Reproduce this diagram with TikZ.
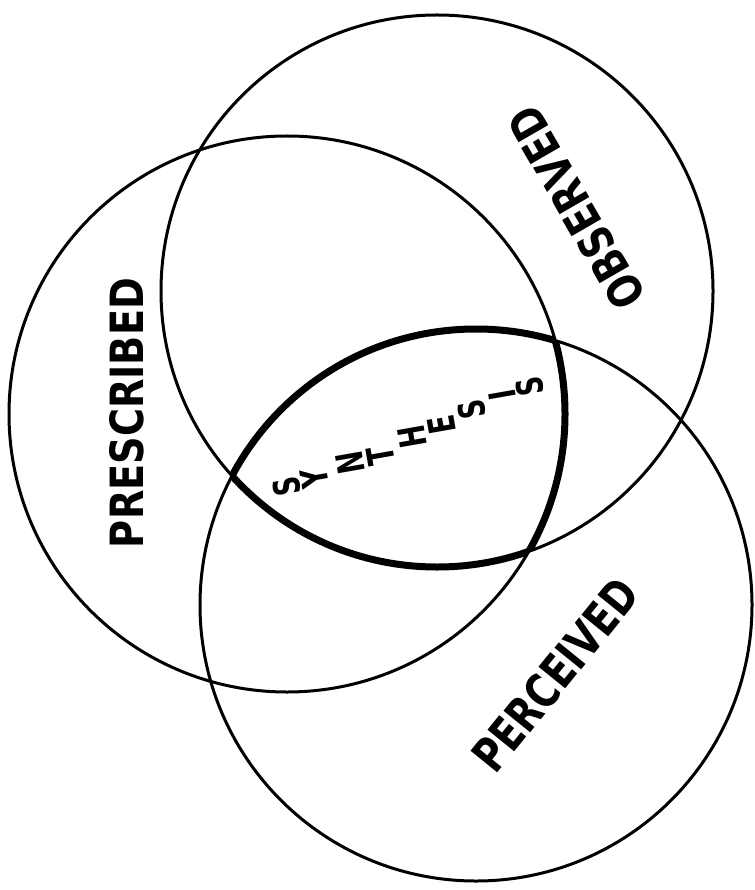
\documentclass[tikz,border=0pt]{standalone}
\usepackage{fontspec}
\setmainfont{DejaVu Sans}
\usepackage{graphicx}
\usepackage{tikz}
\newcommand{\vennlbl}[3]{\resizebox{#1}{#2}{\bfseries #3}}
\newcommand{\synchar}[1]{\scalebox{0.72}[1]{\resizebox{!}{27pt}{\bfseries #1}}}
\tikzset{
  venn/.style={line width=3pt},
  core/.style={line width=7pt},
  vennlabel/.style={inner sep=0pt},
}

\begin{document}
\begin{tikzpicture}[x=1pt,y=-1pt]
  \useasboundingbox (0,0) rectangle (754,890);
  \coordinate (obs) at (437,291);
  \coordinate (pre) at (287,414);
  \coordinate (per) at (476,605);
  \draw[venn] (obs) circle[radius=276pt];
  \draw[venn] (pre) circle[radius=278pt];
  \draw[venn] (per) circle[radius=276pt];
  \begin{scope}
    \clip (pre) circle[radius=278pt];
    \clip (obs) circle[radius=276pt];
    \draw[core] (per) circle[radius=276pt];
  \end{scope}
  \begin{scope}
    \clip (per) circle[radius=276pt];
    \clip (obs) circle[radius=276pt];
    \draw[core] (pre) circle[radius=278pt];
  \end{scope}
  \begin{scope}
    \clip (per) circle[radius=276pt];
    \clip (pre) circle[radius=278pt];
    \draw[core] (obs) circle[radius=276pt];
  \end{scope}
  \node[vennlabel, rotate=90] (prescribed) at (127,413) {\vennlbl{270pt}{34pt}{PRESCRIBED}};
  \node[vennlabel, rotate=120] (observed) at (576,208) {\vennlbl{225pt}{35pt}{OBSERVED}};
  \node[vennlabel, rotate=51] (perceived) at (555,675) {\vennlbl{232pt}{35pt}{PERCEIVED}};
  \foreach \ch/\x/\y [count=\i] in {S/287/487, Y/315/478, N/350/463, T/381/456, H/412/437, E/442/425, S/472/410, I/502/395, S/530/387}
    \node[vennlabel, rotate=100] (syn\i) at (\x,\y) {\synchar{\ch}};
\end{tikzpicture}
\end{document}
